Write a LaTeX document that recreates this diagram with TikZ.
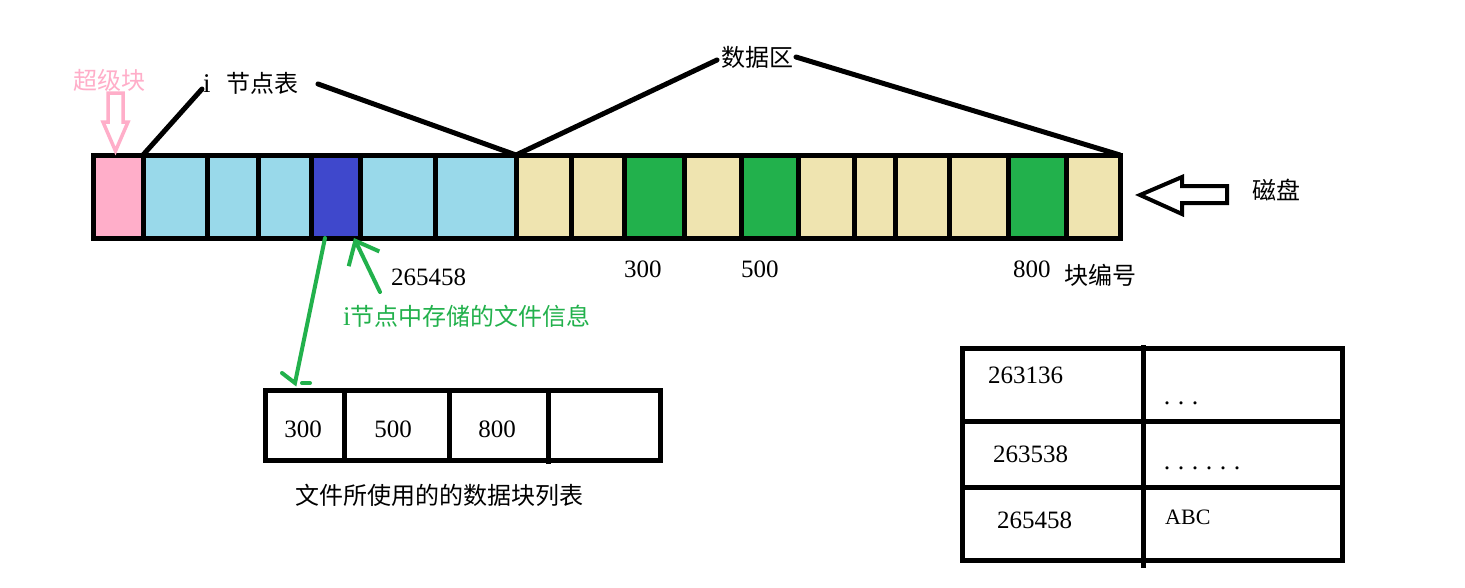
\documentclass[tikz,border=0pt]{standalone}
\usepackage{fontspec}
\setmainfont{Liberation Serif}
\newfontfamily\cjk{Noto Sans CJK SC}
\usetikzlibrary{arrows.meta}
\definecolor{pinkc}{HTML}{FFAEC9}
\definecolor{lblue}{HTML}{99D9EA}
\definecolor{indigoc}{HTML}{3F48CC}
\definecolor{tanc}{HTML}{EFE4B0}
\definecolor{gcol}{HTML}{22B14C}
\newcommand{\pdot}{\makebox[14pt]{.}}
\begin{document}
\begin{tikzpicture}[x=1pt,y=-1pt,
  cell/.style={draw, line width=5pt, minimum height=83pt, inner sep=0pt, outer sep=0pt},
  boxc/.style={draw, line width=5pt, inner sep=0pt, outer sep=0pt},
  lbl/.style={font=\cjk\fontsize{24}{28}\selectfont, inner sep=0pt},
  num/.style={font=\fontsize{25}{30}\selectfont, inner sep=0pt},
  bline/.style={line width=5pt, line cap=round},
  gline/.style={gcol, line width=4pt, line cap=round}]
\useasboundingbox (0,0) rectangle (1465,587);
\fill[white] (0,0) rectangle (1465,587);
% disk cells
\foreach \a/\b/\c [count=\i] in {93/143/pinkc,143/207/lblue,207/258/lblue,258/311/lblue,311/360/indigoc,360/435/lblue,435/516/lblue,516/571/tanc,571/624/tanc,624/684/gcol,684/741/tanc,741/798/gcol,798/854/tanc,854/895/tanc,895/949/tanc,949/1008/tanc,1008/1066/gcol,1066/1120/tanc}
  \node[cell, fill=\c, minimum width={(\b-\a)*1pt}] (c\i) at ({(\a+\b)/2},196.5) {};
% labels
\node[lbl, text=pinkc, anchor=west] (sb) at (73,80) {超级块};
\node[lbl, anchor=west] (inode) at (203,83) {{\rmfamily\fontsize{27}{30}\selectfont i}\hspace{16pt}节点表};
\node[lbl, anchor=west] (data) at (721,57) {数据区};
\node[lbl, anchor=west] (disk) at (1252,190) {磁盘};
\node[lbl, anchor=west] (bn) at (1064,275) {块编号};
\node[num, anchor=west] (n265) at (391,277) {265458};
\node[num, anchor=west] (n300) at (624,269) {300};
\node[num, anchor=west] (n500) at (741,269) {500};
\node[num, anchor=west] (n800) at (1013,269) {800};
\node[lbl, text=gcol, anchor=west] (info) at (343,316) {{\rmfamily\fontsize{27}{30}\selectfont i}节点中存储的文件信息};
% superblock hollow arrow
\draw[pinkc, line width=3.5pt, line join=miter] (108,93) -- (123,93) -- (123,122) -- (128,122) -- (115.5,151) -- (103,122) -- (108,122) -- cycle;
% disk hollow arrow
\draw[line width=4pt, line join=miter] (1140,195) -- (1182,177) -- (1182,186) -- (1227,186) -- (1227,203) -- (1182,203) -- (1182,214) -- cycle;
% black lines
\coordinate (ia) at (202,89);
\coordinate (ib) at (318,84);
\coordinate (da) at (717,60);
\coordinate (db) at (796,57);
\draw[bline] (c2.north west) -- (ia);
\draw[bline] (ib) -- (c7.north east);
\draw[bline] (c8.north west) -- (da);
\draw[bline] (db) -- (c18.north east);
% green arrows
\coordinate (g1s) at (380,292);
\draw[gline, -{Straight Barb[length=20pt,width=34pt]}] (g1s) -- ([xshift=-6pt]c5.south east);
\coordinate (g2e) at (295,383);
\draw[gline] ([xshift=14pt]c5.south west) -- (g2e) -- ++(-13,-10);
\draw[gline] ([xshift=7pt]g2e) -- ++(8,0);
% block list
\foreach \a/\b [count=\i] in {265/344,344/449,449/548,548/660}
  \node[boxc, minimum width={(\b-\a)*1pt}, minimum height=70pt] (l\i) at ({(\a+\b)/2},425) {};
\draw[line width=5pt] (l3.south east) -- ++(0,4);
\node[num] (l1t) at (303,429) {300};
\node[num] (l2t) at (393,429) {500};
\node[num] (l3t) at (497,429) {800};
\node[lbl, anchor=west] (cap) at (295,495) {文件所使用的的数据块列表};
% table
\foreach \r/\ya/\yb in {1/348/421,2/421/487,3/487/560} {
  \node[boxc, minimum width=181pt, minimum height={(\yb-\ya)*1pt}] (t\r a) at (1052.5,{(\ya+\yb)/2}) {};
  \node[boxc, minimum width=199pt, minimum height={(\yb-\ya)*1pt}] (t\r b) at (1242.5,{(\ya+\yb)/2}) {};
}
\draw[line width=5pt] (t1a.north east) -- ++(0,-3);
\draw[line width=5pt] (t3a.south east) -- ++(0,8);
\node[num, anchor=west] (r1) at (988,375) {263136};
\node[num, anchor=west] (r2) at (993,454) {263538};
\node[num, anchor=west] (r3) at (997,520) {265458};
\node[anchor=west, inner sep=0pt, font=\fontsize{26}{28}\selectfont] (d1) at (1160,403) {\pdot\pdot\pdot};
\node[anchor=west, inner sep=0pt, font=\fontsize{26}{28}\selectfont] (d2) at (1160,468) {\pdot\pdot\pdot\pdot\pdot\pdot};
\node[anchor=west, inner sep=0pt, font=\fontsize{22}{24}\selectfont] (abc) at (1165,517) {ABC};
\end{tikzpicture}
\end{document}
